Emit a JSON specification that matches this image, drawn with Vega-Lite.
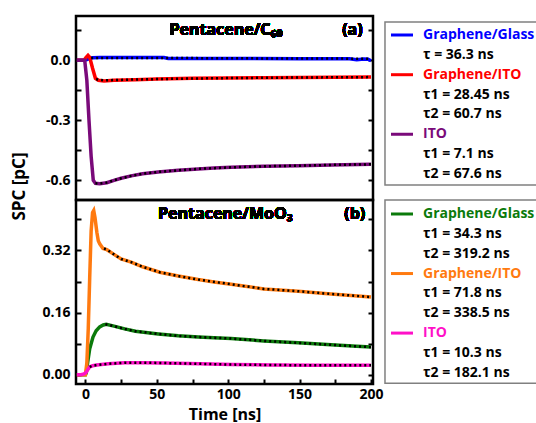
{
  "$schema": "https://vega.github.io/schema/vega-lite/v6.json",
  "padding": {"left": 8, "top": 14, "right": 0, "bottom": 0},
  "config": {
    "font": "Open Sans",
    "view": {"stroke": "black", "strokeWidth": 2.5},
    "axis": {
      "domain": false, "grid": false,
      "labelFont": "Open Sans", "labelFontSize": 14, "labelFontWeight": "bold", "labelColor": "black",
      "tickColor": "black", "tickWidth": 2, "tickSize": -5, "labelPadding": 11,
      "titleFont": "Open Sans", "titleFontSize": 17, "titleFontWeight": "bold", "titleColor": "black"
    }
  },
  "datasets": {
    "top": [
      {"s":"a1","k":"m","t":-6,"v":0},{"s":"a1","k":"m","t":-1,"v":0},{"s":"a1","k":"m","t":1,"v":0.004},{"s":"a1","k":"m","t":3,"v":0.01},{"s":"a1","k":"m","t":5,"v":0.013},{"s":"a1","k":"m","t":10,"v":0.014},{"s":"a1","k":"m","t":30,"v":0.014},{"s":"a1","k":"m","t":55,"v":0.014},{"s":"a1","k":"m","t":58,"v":0.009},{"s":"a1","k":"m","t":100,"v":0.009},{"s":"a1","k":"m","t":150,"v":0.008},{"s":"a1","k":"m","t":185,"v":0.008},{"s":"a1","k":"m","t":190,"v":0.003},{"s":"a1","k":"m","t":195,"v":0.006},{"s":"a1","k":"m","t":198,"v":0.005},{"s":"a1","k":"m","t":200,"v":-0.002},
      {"s":"a1","k":"f","t":4,"v":0.012},{"s":"a1","k":"f","t":50,"v":0.012},{"s":"a1","k":"f","t":100,"v":0.01},{"s":"a1","k":"f","t":150,"v":0.009},{"s":"a1","k":"f","t":200,"v":0.008},
      {"s":"a2","k":"m","t":-6,"v":0},{"s":"a2","k":"m","t":-1,"v":0},{"s":"a2","k":"m","t":0.5,"v":0.015},{"s":"a2","k":"m","t":1.8,"v":0.025},{"s":"a2","k":"m","t":3,"v":0.015},{"s":"a2","k":"m","t":5,"v":-0.04},{"s":"a2","k":"m","t":7,"v":-0.09},{"s":"a2","k":"m","t":9,"v":-0.1},{"s":"a2","k":"m","t":13,"v":-0.103},{"s":"a2","k":"m","t":20,"v":-0.1},{"s":"a2","k":"m","t":35,"v":-0.097},{"s":"a2","k":"m","t":50,"v":-0.094},{"s":"a2","k":"m","t":75,"v":-0.09},{"s":"a2","k":"m","t":100,"v":-0.089},{"s":"a2","k":"m","t":125,"v":-0.087},{"s":"a2","k":"m","t":150,"v":-0.086},{"s":"a2","k":"m","t":175,"v":-0.085},{"s":"a2","k":"m","t":200,"v":-0.084},
      {"s":"a2","k":"f","t":7.5,"v":-0.095},{"s":"a2","k":"f","t":13,"v":-0.1},{"s":"a2","k":"f","t":20,"v":-0.099},{"s":"a2","k":"f","t":35,"v":-0.096},{"s":"a2","k":"f","t":50,"v":-0.094},{"s":"a2","k":"f","t":75,"v":-0.091},{"s":"a2","k":"f","t":100,"v":-0.089},{"s":"a2","k":"f","t":150,"v":-0.086},{"s":"a2","k":"f","t":200,"v":-0.084},
      {"s":"a3","k":"m","t":-6,"v":0},{"s":"a3","k":"m","t":-0.5,"v":0},{"s":"a3","k":"m","t":1,"v":-0.1},{"s":"a3","k":"m","t":2.5,"v":-0.3},{"s":"a3","k":"m","t":4,"v":-0.48},{"s":"a3","k":"m","t":5.5,"v":-0.6},{"s":"a3","k":"m","t":7,"v":-0.615},{"s":"a3","k":"m","t":10,"v":-0.617},{"s":"a3","k":"m","t":15,"v":-0.612},{"s":"a3","k":"m","t":20,"v":-0.6},{"s":"a3","k":"m","t":25,"v":-0.59},{"s":"a3","k":"m","t":32,"v":-0.578},{"s":"a3","k":"m","t":40,"v":-0.567},{"s":"a3","k":"m","t":51,"v":-0.558},{"s":"a3","k":"m","t":65,"v":-0.55},{"s":"a3","k":"m","t":79,"v":-0.543},{"s":"a3","k":"m","t":90,"v":-0.538},{"s":"a3","k":"m","t":102,"v":-0.535},{"s":"a3","k":"m","t":125,"v":-0.53},{"s":"a3","k":"m","t":149,"v":-0.527},{"s":"a3","k":"m","t":172,"v":-0.523},{"s":"a3","k":"m","t":200,"v":-0.52},
      {"s":"a3","k":"f","t":7,"v":-0.615},{"s":"a3","k":"f","t":10,"v":-0.616},{"s":"a3","k":"f","t":15,"v":-0.611},{"s":"a3","k":"f","t":20,"v":-0.6},{"s":"a3","k":"f","t":25,"v":-0.59},{"s":"a3","k":"f","t":32,"v":-0.578},{"s":"a3","k":"f","t":40,"v":-0.567},{"s":"a3","k":"f","t":51,"v":-0.558},{"s":"a3","k":"f","t":65,"v":-0.55},{"s":"a3","k":"f","t":79,"v":-0.543},{"s":"a3","k":"f","t":102,"v":-0.535},{"s":"a3","k":"f","t":125,"v":-0.53},{"s":"a3","k":"f","t":149,"v":-0.527},{"s":"a3","k":"f","t":172,"v":-0.523},{"s":"a3","k":"f","t":200,"v":-0.52}
    ],
    "bot": [
      {"s":"b1","k":"m","t":-6,"v":0},{"s":"b1","k":"m","t":0,"v":0},{"s":"b1","k":"m","t":0.6,"v":0.005},{"s":"b1","k":"m","t":1.5,"v":0.03},{"s":"b1","k":"m","t":3,"v":0.067},{"s":"b1","k":"m","t":5.3,"v":0.097},{"s":"b1","k":"m","t":7.5,"v":0.113},{"s":"b1","k":"m","t":10,"v":0.123},{"s":"b1","k":"m","t":12.5,"v":0.128},{"s":"b1","k":"m","t":14.6,"v":0.13},{"s":"b1","k":"m","t":20,"v":0.125},{"s":"b1","k":"m","t":27.5,"v":0.118},{"s":"b1","k":"m","t":35,"v":0.112},{"s":"b1","k":"m","t":51,"v":0.105},{"s":"b1","k":"m","t":65,"v":0.1},{"s":"b1","k":"m","t":79,"v":0.097},{"s":"b1","k":"m","t":90,"v":0.095},{"s":"b1","k":"m","t":102,"v":0.093},{"s":"b1","k":"m","t":125,"v":0.087},{"s":"b1","k":"m","t":149,"v":0.082},{"s":"b1","k":"m","t":172,"v":0.077},{"s":"b1","k":"m","t":190,"v":0.073},{"s":"b1","k":"m","t":200,"v":0.071},
      {"s":"b1","k":"f","t":14,"v":0.13},{"s":"b1","k":"f","t":20,"v":0.125},{"s":"b1","k":"f","t":27.5,"v":0.118},{"s":"b1","k":"f","t":35,"v":0.112},{"s":"b1","k":"f","t":51,"v":0.105},{"s":"b1","k":"f","t":65,"v":0.1},{"s":"b1","k":"f","t":79,"v":0.097},{"s":"b1","k":"f","t":102,"v":0.093},{"s":"b1","k":"f","t":125,"v":0.087},{"s":"b1","k":"f","t":149,"v":0.082},{"s":"b1","k":"f","t":172,"v":0.077},{"s":"b1","k":"f","t":200,"v":0.071},
      {"s":"b2","k":"m","t":-6,"v":0},{"s":"b2","k":"m","t":0,"v":0},{"s":"b2","k":"m","t":1,"v":0.03},{"s":"b2","k":"m","t":2,"v":0.12},{"s":"b2","k":"m","t":3,"v":0.25},{"s":"b2","k":"m","t":4,"v":0.37},{"s":"b2","k":"m","t":5,"v":0.418},{"s":"b2","k":"m","t":5.8,"v":0.423},{"s":"b2","k":"m","t":6.7,"v":0.405},{"s":"b2","k":"m","t":8,"v":0.367},{"s":"b2","k":"m","t":9,"v":0.345},{"s":"b2","k":"m","t":10,"v":0.337},{"s":"b2","k":"m","t":12.3,"v":0.325},{"s":"b2","k":"m","t":15,"v":0.322},{"s":"b2","k":"m","t":20,"v":0.31},{"s":"b2","k":"m","t":25,"v":0.298},{"s":"b2","k":"m","t":32,"v":0.29},{"s":"b2","k":"m","t":40,"v":0.278},{"s":"b2","k":"m","t":52,"v":0.264},{"s":"b2","k":"m","t":65,"v":0.254},{"s":"b2","k":"m","t":79,"v":0.245},{"s":"b2","k":"m","t":90,"v":0.239},{"s":"b2","k":"m","t":102,"v":0.233},{"s":"b2","k":"m","t":125,"v":0.221},{"s":"b2","k":"m","t":149,"v":0.215},{"s":"b2","k":"m","t":172,"v":0.208},{"s":"b2","k":"m","t":200,"v":0.2},
      {"s":"b2","k":"f","t":13,"v":0.325},{"s":"b2","k":"f","t":15,"v":0.322},{"s":"b2","k":"f","t":20,"v":0.31},{"s":"b2","k":"f","t":25,"v":0.298},{"s":"b2","k":"f","t":32,"v":0.29},{"s":"b2","k":"f","t":40,"v":0.278},{"s":"b2","k":"f","t":52,"v":0.264},{"s":"b2","k":"f","t":65,"v":0.254},{"s":"b2","k":"f","t":79,"v":0.245},{"s":"b2","k":"f","t":102,"v":0.233},{"s":"b2","k":"f","t":125,"v":0.221},{"s":"b2","k":"f","t":149,"v":0.215},{"s":"b2","k":"f","t":172,"v":0.208},{"s":"b2","k":"f","t":200,"v":0.2},
      {"s":"b3","k":"m","t":-6,"v":0},{"s":"b3","k":"m","t":-3,"v":0},{"s":"b3","k":"m","t":-1,"v":0.002},{"s":"b3","k":"m","t":0.5,"v":0.006},{"s":"b3","k":"m","t":2,"v":0.015},{"s":"b3","k":"m","t":3,"v":0.02},{"s":"b3","k":"m","t":5,"v":0.023},{"s":"b3","k":"m","t":8,"v":0.025},{"s":"b3","k":"m","t":16,"v":0.028},{"s":"b3","k":"m","t":27.5,"v":0.031},{"s":"b3","k":"m","t":40,"v":0.031},{"s":"b3","k":"m","t":55,"v":0.03},{"s":"b3","k":"m","t":80,"v":0.028},{"s":"b3","k":"m","t":102,"v":0.026},{"s":"b3","k":"m","t":130,"v":0.025},{"s":"b3","k":"m","t":160,"v":0.024},{"s":"b3","k":"m","t":200,"v":0.024},
      {"s":"b3","k":"f","t":3,"v":0.02},{"s":"b3","k":"f","t":5,"v":0.023},{"s":"b3","k":"f","t":8,"v":0.025},{"s":"b3","k":"f","t":16,"v":0.028},{"s":"b3","k":"f","t":27.5,"v":0.031},{"s":"b3","k":"f","t":40,"v":0.031},{"s":"b3","k":"f","t":55,"v":0.03},{"s":"b3","k":"f","t":80,"v":0.028},{"s":"b3","k":"f","t":102,"v":0.026},{"s":"b3","k":"f","t":130,"v":0.025},{"s":"b3","k":"f","t":160,"v":0.024},{"s":"b3","k":"f","t":200,"v":0.024}
    ],
    "legend": [
      {"i":0,"s":"a1","label":"Graphene/Glass"},
      {"i":1,"s":"tau","label":"τ = 36.3 ns"},
      {"i":2,"s":"a2","label":"Graphene/ITO"},
      {"i":3,"s":"tau","label":"τ1 = 28.45 ns"},
      {"i":4,"s":"tau","label":"τ2 = 60.7 ns"},
      {"i":5,"s":"a3","label":"ITO"},
      {"i":6,"s":"tau","label":"τ1 = 7.1 ns"},
      {"i":7,"s":"tau","label":"τ2 = 67.6 ns"},
      {"i":9,"s":"b1","label":"Graphene/Glass"},
      {"i":10,"s":"tau","label":"τ1 = 34.3 ns"},
      {"i":11,"s":"tau","label":"τ2 = 319.2 ns"},
      {"i":12,"s":"b2","label":"Graphene/ITO"},
      {"i":13,"s":"tau","label":"τ1 = 71.8 ns"},
      {"i":14,"s":"tau","label":"τ2 = 338.5 ns"},
      {"i":15,"s":"b3","label":"ITO"},
      {"i":16,"s":"tau","label":"τ1 = 10.3 ns"},
      {"i":17,"s":"tau","label":"τ2 = 182.1 ns"}
    ]
  },
  "bounds": "flush",
  "columns": 2,
  "spacing": {"row": 0, "column": 6},
  "resolve": {"scale": {"x": "independent", "y": "independent"}},
  "concat": [
    {
      "width": 297, "height": 184,
      "data": {"name": "top"},
      "layer": [
        {
          "transform": [{"filter": "datum.k == 'm'"}],
          "mark": {"type": "line", "strokeWidth": 3.5},
          "encoding": {
            "x": {"field": "t", "type": "quantitative", "scale": {"domain": [-6.6, 201.4], "nice": false, "zero": false}, "axis": null},
            "y": {"field": "v", "type": "quantitative", "scale": {"domain": [-0.6985, 0.2215], "nice": false, "zero": false},
                  "axis": {"orient": "left", "values": [0.15, 0, -0.15, -0.3, -0.45, -0.6],
                           "labelExpr": "indexof([0,-0.3,-0.6], datum.value) >= 0 ? replace(format(datum.value, '.1f'), '\u2212', '-') : ''",
                           "title": "SPC [pC]", "titleX": -57, "titleY": 170, "titleAngle": 270, "titleAlign": "center", "titleBaseline": "middle"}},
            "color": {"field": "s", "type": "nominal", "legend": null,
                      "scale": {"domain": ["a1","a2","a3","b1","b2","b3","tau"], "range": ["#0000ff","#ff0000","#7a0a7a","#0b7a0b","#ff7a10","#ff10c8","#000000"]}}
          }
        },
        {
          "transform": [{"filter": "datum.k == 'f'"}],
          "mark": {"type": "line", "strokeWidth": 2.5, "color": "black", "strokeDash": [2, 3]},
          "encoding": {
            "x": {"field": "t", "type": "quantitative", "axis": null},
            "y": {"field": "v", "type": "quantitative",
                  "axis": {"orient": "right", "values": [0.15, 0, -0.15, -0.3, -0.45, -0.6], "labels": false, "title": null}},
            "detail": {"field": "s"}
          }
        },
        {
          "mark": {"type": "text", "text": "Pentacene/C₆₀", "fontSize": 16, "fontWeight": "bold", "color": "black"},
          "encoding": {
            "x": {"datum": 98.5, "type": "quantitative", "axis": null},
            "y": {"datum": 0.15, "type": "quantitative", "axis": null}
          }
        },
        {
          "mark": {"type": "text", "text": "(a)", "fontSize": 16, "fontWeight": "bold", "color": "black"},
          "encoding": {
            "x": {"datum": 187, "type": "quantitative", "axis": null},
            "y": {"datum": 0.15, "type": "quantitative", "axis": null}
          }
        }
      ],
      "resolve": {"axis": {"y": "independent", "x": "independent"}}
    },
    {
      "width": 155, "height": 184,
      "view": {"stroke": null},
      "data": {"name": "legend"},
      "transform": [{"filter": "datum.i < 8.5"}],
      "layer": [
        {
          "data": {"values": [{}]},
          "mark": {"type": "rect", "filled": false, "stroke": "#808080", "strokeWidth": 1.5},
          "encoding": {
            "x": {"datum": -0.273, "type": "quantitative", "scale": {"domain": [-0.545, 6.5], "nice": false, "zero": false}, "axis": null},
            "x2": {"datum": 7.5},
            "y": {"datum": -0.655, "type": "quantitative", "scale": {"domain": [-0.957, 8.312], "nice": false, "zero": false, "reverse": true}, "axis": null},
            "y2": {"datum": 7.56}
          }
        },
        {
          "transform": [{"filter": "datum.s != 'tau'"}],
          "mark": {"type": "rule", "strokeWidth": 3},
          "encoding": {
            "x": {"datum": 0, "type": "quantitative", "axis": null},
            "x2": {"datum": 1},
            "y": {"field": "i", "type": "quantitative", "axis": null},
            "color": {"field": "s", "type": "nominal", "legend": null,
                      "scale": {"domain": ["a1","a2","a3","b1","b2","b3","tau"], "range": ["#0000ff","#ff0000","#7a0a7a","#0b7a0b","#ff7a10","#ff10c8","#000000"]}}
          }
        },
        {
          "mark": {"type": "text", "align": "left", "baseline": "middle", "fontSize": 14, "fontWeight": "bold"},
          "encoding": {
            "x": {"datum": 1.455, "type": "quantitative", "axis": null},
            "y": {"field": "i", "type": "quantitative", "axis": null},
            "text": {"field": "label"},
            "color": {"field": "s", "type": "nominal", "legend": null,
                      "scale": {"domain": ["a1","a2","a3","b1","b2","b3","tau"], "range": ["#0000ff","#ff0000","#7a0a7a","#0b7a0b","#ff7a10","#ff10c8","#000000"]}}
          }
        }
      ]
    },
    {
      "width": 297, "height": 184,
      "data": {"name": "bot"},
      "layer": [
        {
          "transform": [{"filter": "datum.k == 'm'"}],
          "mark": {"type": "line", "strokeWidth": 3.5},
          "encoding": {
            "x": {"field": "t", "type": "quantitative", "scale": {"domain": [-6.6, 201.4], "nice": false, "zero": false},
                  "axis": {"orient": "bottom", "values": [0, 25, 50, 75, 100, 125, 150, 175, 200], "labelExpr": "datum.value % 50 == 0 ? datum.label : ''",
                           "labelPadding": 8, "title": "Time [ns]", "titleFontSize": 16, "titlePadding": 5}},
            "y": {"field": "v", "type": "quantitative", "scale": {"domain": [-0.024, 0.45], "nice": false, "zero": false},
                  "axis": {"orient": "left", "values": [0, 0.08, 0.16, 0.24, 0.32, 0.4],
                           "labelExpr": "indexof([0,0.16,0.32], datum.value) >= 0 ? format(datum.value, '.2f') : ''",
                           "title": null}},
            "color": {"field": "s", "type": "nominal", "legend": null,
                      "scale": {"domain": ["a1","a2","a3","b1","b2","b3","tau"], "range": ["#0000ff","#ff0000","#7a0a7a","#0b7a0b","#ff7a10","#ff10c8","#000000"]}}
          }
        },
        {
          "transform": [{"filter": "datum.k == 'f'"}],
          "mark": {"type": "line", "strokeWidth": 2.5, "color": "black", "strokeDash": [2, 3]},
          "encoding": {
            "x": {"field": "t", "type": "quantitative", "axis": null},
            "y": {"field": "v", "type": "quantitative",
                  "axis": {"orient": "right", "values": [0, 0.08, 0.16, 0.24, 0.32, 0.4], "labels": false, "title": null}},
            "detail": {"field": "s"}
          }
        },
        {
          "mark": {"type": "text", "text": "Pentacene/MoO₃", "fontSize": 16, "fontWeight": "bold", "color": "black"},
          "encoding": {
            "x": {"datum": 98, "type": "quantitative", "axis": null},
            "y": {"datum": 0.414, "type": "quantitative", "axis": null}
          }
        },
        {
          "mark": {"type": "text", "text": "(b)", "fontSize": 16, "fontWeight": "bold", "color": "black"},
          "encoding": {
            "x": {"datum": 188.6, "type": "quantitative", "axis": null},
            "y": {"datum": 0.414, "type": "quantitative", "axis": null}
          }
        }
      ],
      "resolve": {"axis": {"y": "independent", "x": "independent"}}
    },
    {
      "width": 155, "height": 184,
      "view": {"stroke": null},
      "data": {"name": "legend"},
      "transform": [{"filter": "datum.i > 8.5"}],
      "layer": [
        {
          "data": {"values": [{}]},
          "mark": {"type": "rect", "filled": false, "stroke": "#808080", "strokeWidth": 1.5},
          "encoding": {
            "x": {"datum": -0.273, "type": "quantitative", "scale": {"domain": [-0.545, 6.5], "nice": false, "zero": false}, "axis": null},
            "x2": {"datum": 7.5},
            "y": {"datum": 8.3, "type": "quantitative", "scale": {"domain": [8.295, 17.565], "nice": false, "zero": false, "reverse": true}, "axis": null},
            "y2": {"datum": 17.53}
          }
        },
        {
          "transform": [{"filter": "datum.s != 'tau'"}],
          "mark": {"type": "rule", "strokeWidth": 3},
          "encoding": {
            "x": {"datum": 0, "type": "quantitative", "axis": null},
            "x2": {"datum": 1},
            "y": {"field": "i", "type": "quantitative", "axis": null},
            "color": {"field": "s", "type": "nominal", "legend": null,
                      "scale": {"domain": ["a1","a2","a3","b1","b2","b3","tau"], "range": ["#0000ff","#ff0000","#7a0a7a","#0b7a0b","#ff7a10","#ff10c8","#000000"]}}
          }
        },
        {
          "mark": {"type": "text", "align": "left", "baseline": "middle", "fontSize": 14, "fontWeight": "bold"},
          "encoding": {
            "x": {"datum": 1.455, "type": "quantitative", "axis": null},
            "y": {"field": "i", "type": "quantitative", "axis": null},
            "text": {"field": "label"},
            "color": {"field": "s", "type": "nominal", "legend": null,
                      "scale": {"domain": ["a1","a2","a3","b1","b2","b3","tau"], "range": ["#0000ff","#ff0000","#7a0a7a","#0b7a0b","#ff7a10","#ff10c8","#000000"]}}
          }
        }
      ]
    }
  ]
}
